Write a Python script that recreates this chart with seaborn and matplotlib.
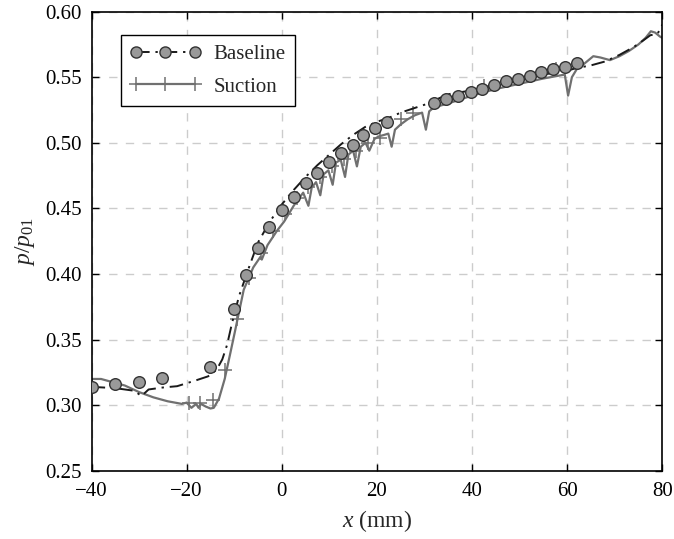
import numpy as np
import pandas as pd
import seaborn as sns
from matplotlib import pyplot as plt
from matplotlib.lines import Line2D

# baseline: measured points (circles) and dash-dot curve
base_x = [-40, -35.1, -30.1, -25.2, -15.0, -10.1, -7.5, -5.0, -2.6, 0.0, 2.5, 5.0, 7.5, 10.0,
          12.5, 14.9, 17.1, 19.6, 22.1, 32.1, 34.6, 37.1, 39.7, 42.1, 44.6, 47.2, 49.6, 52.2,
          54.6, 57.1, 59.5, 62.1]
base_y = [0.314, 0.316, 0.318, 0.321, 0.329, 0.373, 0.399, 0.420, 0.436, 0.449, 0.459, 0.469,
          0.477, 0.485, 0.492, 0.498, 0.506, 0.511, 0.516, 0.530, 0.533, 0.536, 0.539, 0.541,
          0.544, 0.547, 0.549, 0.551, 0.554, 0.556, 0.558, 0.561]

base_line_x = [-40, -35, -31, -29.5, -28, -25, -22, -18, -15.5, -13.7, -12.5, -11.5, -10.5, -9,
               -7, -5, -2.5, 0, 2.5, 5, 7.5, 10, 12.5, 15, 17.5, 20, 22.5, 25, 27.5, 30, 32.5,
               35, 40, 45, 50, 55, 60, 62, 65, 68, 71, 74, 76, 77.5, 79, 80]
base_line_y = [0.314, 0.313, 0.311, 0.307, 0.312, 0.3135, 0.3145, 0.319, 0.322, 0.327, 0.335,
               0.346, 0.362, 0.383, 0.404, 0.424, 0.440, 0.453, 0.464, 0.474, 0.483, 0.491,
               0.499, 0.506, 0.512, 0.516, 0.519, 0.523, 0.526, 0.529, 0.533, 0.537, 0.540,
               0.544, 0.548, 0.552, 0.555, 0.557, 0.559, 0.562, 0.567, 0.573, 0.578, 0.582,
               0.583, 0.590]

# suction: jagged solid curve and sparse '+' points
suc_line_x = [-40, -38, -36, -33, -30, -27, -24, -21, -20, -19, -18, -17.5, -17, -16, -15,
              -14.3, -13.2, -12, -10.8, -9.8, -8, -6, -4.5, -4.2, -3, -1, 0.5, 2.5, 4.5, 5.6,
              6.3, 7.2, 8.1, 8.8, 9.8, 10.7, 11.4, 12.4, 13.3, 14.0, 15.0, 15.8, 16.6, 17.6,
              18.4, 19.5, 20.5, 21.5, 22.4, 23.1, 23.8, 25, 26.5, 28, 29.5, 30.3, 31, 32, 35,
              40, 45, 50, 55, 58, 59.5, 60.2, 61, 62, 63.5, 65.5, 67, 69, 71, 73, 75, 76.5,
              77.6, 78.5, 79.5, 80]
suc_line_y = [0.320, 0.320, 0.318, 0.315, 0.310, 0.306, 0.303, 0.301, 0.302, 0.298, 0.301,
              0.298, 0.301, 0.299, 0.2975, 0.298, 0.305, 0.320, 0.340, 0.357, 0.388, 0.405,
              0.413, 0.411, 0.422, 0.433, 0.440, 0.452, 0.462, 0.452, 0.466, 0.470, 0.460,
              0.476, 0.479, 0.468, 0.485, 0.487, 0.474, 0.491, 0.494, 0.482, 0.497, 0.500,
              0.494, 0.503, 0.505, 0.506, 0.507, 0.497, 0.510, 0.514, 0.518, 0.521, 0.523,
              0.510, 0.524, 0.527, 0.530, 0.536, 0.541, 0.545, 0.549, 0.551, 0.552, 0.536,
              0.550, 0.556, 0.560, 0.566, 0.565, 0.563, 0.566, 0.570, 0.575, 0.580, 0.585,
              0.584, 0.581, 0.580]

suc_x = [-19.6, -17.2, -14.5, -11.9, -9.4, -6.9, -4.4, -1.9, 0.6, 3.1, 5.6, 8.1, 10.6, 13.1,
         15.6, 18.1, 20.6, 25.1, 27.6, 42.6, 57.6]
suc_y = [0.302, 0.302, 0.304, 0.327, 0.366, 0.397, 0.416, 0.433, 0.446, 0.458, 0.466, 0.474,
         0.482, 0.488, 0.494, 0.500, 0.504, 0.518, 0.523, 0.543, 0.556]

sns.set_style('ticks')
plt.rcParams['font.family'] = ['Liberation Serif', 'DejaVu Serif']
plt.rcParams['mathtext.fontset'] = 'custom'
plt.rcParams['mathtext.rm'] = 'Liberation Serif'
plt.rcParams['mathtext.it'] = 'Liberation Serif:italic'

suc_col = '#707070'
base_col = '#1a1a1a'
dot_face = '#999999'
dot_edge = '#333333'
dashdot = (0, (7, 3, 1.2, 3))

fig = plt.figure(figsize=(6.74, 5.39), dpi=100)
ax = fig.add_axes([0.1358, 0.1265, 0.8468, 0.852])

sns.lineplot(x=suc_line_x, y=suc_line_y, color=suc_col, lw=1.6, estimator=None, sort=False, ax=ax)
sns.scatterplot(x=suc_x, y=suc_y, marker='+', color=suc_col, s=90, linewidth=1.1, ax=ax)
sns.lineplot(x=base_line_x, y=base_line_y, color=base_col, lw=1.4, estimator=None, sort=False,
             ax=ax, linestyle=dashdot)
sns.scatterplot(x=base_x, y=base_y, marker='o', color=dot_face, edgecolor=dot_edge, s=70,
                linewidth=1.0, ax=ax, zorder=5)

ax.set_xlim(-40, 80)
ax.set_ylim(0.25, 0.60)
ax.set_xticks(np.arange(-40, 81, 20))
ax.set_yticks(np.arange(0.25, 0.601, 0.05))
ax.set_xticklabels(['\u221240', '\u221220', '0', '20', '40', '60', '80'])
ax.set_yticklabels(['%.2f' % v for v in np.arange(0.25, 0.601, 0.05)])
ax.grid(True, color='#cccccc', linestyle=(0, (6, 6)), lw=1.0)
ax.tick_params(direction='in', top=True, right=True, length=5, width=1, labelsize=15,
               colors='black')
ax.tick_params(axis='x', pad=8)
ax.tick_params(axis='y', pad=7)
for sp in ax.spines.values():
    sp.set_color('black')
    sp.set_linewidth(1.2)

ax.set_xlabel(r'$x$ (mm)', fontsize=17, labelpad=5)
ax.set_ylabel(r'$p/p_{01}$', fontsize=17, labelpad=6)

h_base = Line2D([], [], color=base_col, lw=1.4, linestyle=dashdot, marker='o',
                markerfacecolor=dot_face, markeredgecolor=dot_edge, markersize=8)
h_suc = Line2D([], [], color=suc_col, lw=1.6, marker='+', markersize=10, markeredgewidth=1.1)
leg = ax.legend([h_base, h_suc], ['Baseline', 'Suction'], loc='upper left',
                bbox_to_anchor=(0.051, 0.948), borderaxespad=0, fancybox=False,
                edgecolor='black', framealpha=1, fontsize=15, numpoints=3,
                handlelength=3.4, handletextpad=0.6, borderpad=0.45, labelspacing=0.6)
leg.get_frame().set_linewidth(1.0)

plt.savefig('out.png', dpi=100)
